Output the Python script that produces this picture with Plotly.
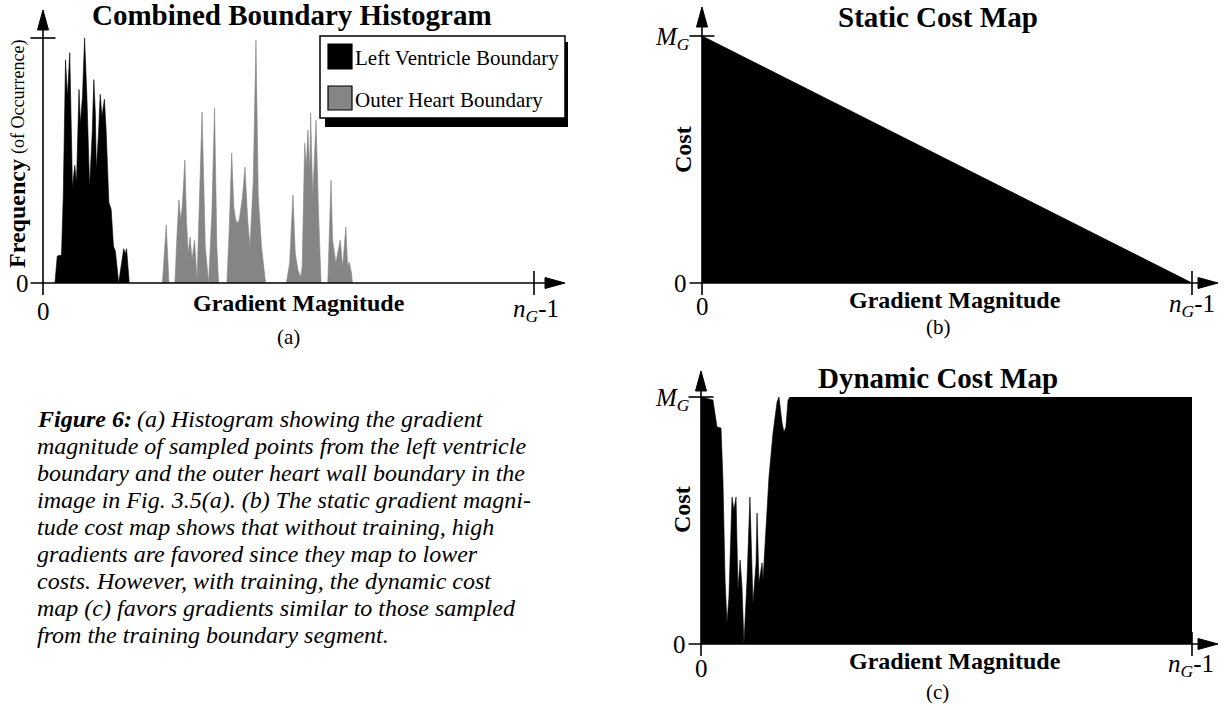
import plotly.graph_objects as go

W, H = 1225, 710
FONT = "Liberation Serif, Times New Roman, serif"

# ---------------- data ----------------
# gradient magnitude axis runs 0 .. nG-1 (255); frequency / cost normalised 0..1
series_names = ["Left Ventricle Boundary", "Outer Heart Boundary"]
series_colors = ["#000000", "#858585"]

grad_lv = [6.2, 7.4, 9.6, 10.5, 11.7, 12.2, 12.7, 13.9, 14.8, 15.3, 16.5, 17.4, 18.7, 19.4,
           20.5, 21.6, 22.8, 24.2, 25.6, 26.4, 27.2, 27.7, 28.9, 29.7, 30.6, 31.9, 32.8, 34.2,
           35.4, 36.6, 37.6, 39.3, 41.9, 42.8, 43.4, 44.8]
freq_lv = [0, 0.11, 0.114, 0.35, 0.91, 0.84, 0.76, 0.94, 0.62, 0.39, 0.48, 0.41, 0.79, 0.65,
           0.76, 1.0, 0.76, 0.39, 0.62, 0.83, 0.69, 0.46, 0.62, 0.77, 0.68, 0.75, 0.62, 0.33,
           0.30, 0.15, 0.13, 0, 0.14, 0.12, 0.14, 0]

grad_oh = [62.0, 64.0, 65.4, 68.5, 69.7, 70.6, 71.5, 72.3, 73.7, 74.5, 75.4, 76.4, 77.4, 78.7,
           80.0, 82.6, 84.3, 86.0, 87.7, 89.1, 90.3, 91.2, 95.5, 96.7, 98.0, 99.1, 100.1, 101.0,
           101.9, 103.6, 104.9, 106.3, 107.5, 109.2, 110.6, 111.8, 113.5, 115.6, 126.4, 128.1,
           129.8, 131.0, 132.4, 133.8, 134.6, 135.9, 136.7, 137.6, 138.6, 139.0, 140.1, 141.0,
           141.8, 143.1, 144.4, 147.9, 149.6, 150.4, 151.3, 152.1, 154.4, 155.6, 157.3, 158.2,
           159.0, 160.2, 160.7]
freq_oh = [0, 0.237, 0, 0, 0.216, 0.339, 0.257, 0.310, 0.502, 0.257, 0.122, 0.188, 0.094, 0.176,
           0.012, 0.698, 0.147, 0, 0.286, 0.714, 0.147, 0, 0, 0.216, 0.531, 0.310, 0.257, 0.245,
           0.257, 0.351, 0.473, 0.257, 0.147, 0.420, 0.992, 0.351, 0.147, 0, 0, 0.082,
           0.359, 0.122, 0.053, 0.024, 0.065, 0.571, 0.473, 0.624, 0.449, 0.694, 0.351, 0.502,
           0.665, 0.286, 0, 0, 0.420, 0.176, 0.122, 0.082, 0.176, 0.065, 0.229, 0.065,
           0.086, 0.041, 0]

static_x = [0, 255]
static_cost = [1.0, 0.0]

dyn_x = [0, 6.2, 8.3, 10.4, 11.4, 12.5, 13.5, 14.5, 16.1, 17.1, 18.2, 19.2, 20.3, 21.3, 22.3,
         23.9, 25.4, 27.0, 28.6, 29.1, 30.1, 31.7, 32.2, 34.3, 35.3, 37.4, 39.5, 40.5, 42.1,
         43.1, 44.1, 45.2, 46.2, 255]
dyn_cost = [1.0, 0.988, 0.879, 0.874, 0.664, 0.259, 0.085, 0.190, 0.595, 0.543, 0.595, 0.219,
            0.340, 0.231, 0.0, 0.259, 0.595, 0.166, 0.328, 0.530, 0.247, 0.328, 0.259, 0.530,
            0.676, 0.854, 0.980, 1.0, 0.895, 0.858, 0.879, 0.988, 1.0, 1.0]

titles = ["Combined Boundary Histogram", "Static Cost Map", "Dynamic Cost Map"]
x_label = "Gradient Magnitude"
panel_tags = ["(a)", "(b)", "(c)"]

caption_head = "Figure 6:"
caption_lines = [
    "(a) Histogram showing the gradient",
    "magnitude of sampled points from the left ventricle",
    "boundary and the outer heart wall boundary in the",
    "image in Fig. 3.5(a). (b) The static gradient magni-",
    "tude cost map shows that without training, high",
    "gradients are favored since they map to lower",
    "costs. However, with training, the dynamic cost",
    "map (c) favors gradients similar to those sampled",
    "from the training boundary segment.",
]

# ---------------- helpers (pixel -> paper) ----------------
def X(px):
    return px / W


def Y(py):
    return 1 - py / H


shapes = []
annotations = []


def seg(x0, y0, x1, y1, w=1.6):
    shapes.append(dict(type="line", xref="paper", yref="paper", x0=X(x0), y0=Y(y0),
                       x1=X(x1), y1=Y(y1), line=dict(color="black", width=w)))


def poly(points, fill="black", lw=1):
    path = "M " + " L ".join(f"{X(a):.5f},{Y(b):.5f}" for a, b in points) + " Z"
    shapes.append(dict(type="path", xref="paper", yref="paper", path=path,
                       fillcolor=fill, line=dict(color="black", width=lw)))


def rect(x0, y0, x1, y1, fill, lw=1.5):
    shapes.append(dict(type="rect", xref="paper", yref="paper", x0=X(x0), y0=Y(y1),
                       x1=X(x1), y1=Y(y0), fillcolor=fill, line=dict(color="black", width=lw)))


def text(t, x, y, size, xanchor="center", yanchor="middle", angle=0,
         weight="normal", style="normal"):
    annotations.append(dict(text=t, x=X(x), y=Y(y), xref="paper", yref="paper",
                            showarrow=False, xanchor=xanchor, yanchor=yanchor,
                            textangle=angle,
                            font=dict(family=FONT, size=size, color="black",
                                      weight=weight, style=style)))


def sym(letter, size):
    """italic letter with italic subscript G, every piece with an explicit size"""
    sub = round(size * 0.7, 1)
    return (f"<span style='font-style:italic;font-size:{size}px'>{letter}</span>"
            f"<sub><span style='font-style:italic;font-size:{sub}px'>G</span></sub>")


def axes_frame(ox, oy, ty, rx, tip_y, tip_x):
    # y axis with arrow
    seg(ox, oy + 12, ox, tip_y + 19)
    poly([(ox, tip_y), (ox - 5.5, tip_y + 20), (ox + 5.5, tip_y + 20)])
    seg(ox - 12.5, ty, ox + 12.5, ty)
    # x axis with arrow
    seg(ox - 12.5, oy, tip_x - 19, oy)
    poly([(tip_x, oy), (tip_x - 20, oy - 5.5), (tip_x - 20, oy + 5.5)])
    seg(rx, oy - 12, rx, oy + 12)


# ---------------- panel geometry (pixels) ----------------
A = dict(ox=43, oy=283, ty=38, rx=534, tip_y=10, tip_x=565)
B = dict(ox=702, oy=283, ty=36, rx=1192, tip_y=7, tip_x=1218)
C = dict(ox=701, oy=644, ty=397, rx=1192, tip_y=371, tip_x=1218)

fig = go.Figure()

fig.add_trace(go.Scatter(x=grad_lv, y=freq_lv, mode="lines", fill="tozeroy",
                         line=dict(color=series_colors[0], width=0.6),
                         fillcolor=series_colors[0], name=series_names[0],
                         xaxis="x", yaxis="y"))
fig.add_trace(go.Scatter(x=grad_oh, y=freq_oh, mode="lines", fill="tozeroy",
                         line=dict(color=series_colors[1], width=0.6),
                         fillcolor=series_colors[1], name=series_names[1],
                         xaxis="x", yaxis="y"))
fig.add_trace(go.Scatter(x=static_x, y=static_cost, mode="lines", fill="tozeroy",
                         line=dict(color="black", width=0.8), fillcolor="black",
                         xaxis="x2", yaxis="y2"))
fig.add_trace(go.Scatter(x=dyn_x, y=dyn_cost, mode="lines", fill="tozeroy",
                         line=dict(color="black", width=0.6), fillcolor="black",
                         xaxis="x3", yaxis="y3"))


def ax(P):
    xa = dict(domain=[X(P["ox"]), X(P["rx"])], range=[0, 255], visible=False, fixedrange=True)
    ya = dict(domain=[Y(P["oy"]), Y(P["ty"])], range=[0, 1], visible=False, fixedrange=True)
    return xa, ya


xa1, ya1 = ax(A)
xa2, ya2 = ax(B)
xa3, ya3 = ax(C)
ya1["anchor"] = "x"
xa2["anchor"] = "y2"; ya2["anchor"] = "x2"
xa3["anchor"] = "y3"; ya3["anchor"] = "x3"

for P in (A, B, C):
    axes_frame(**P)

# ---------------- legend box (panel a) ----------------
rect(325, 42, 568, 127, "black", lw=0)
rect(320, 36, 565, 118, "white", lw=1.5)
rect(328, 44, 352, 69, series_colors[0], lw=1.2)
rect(328, 86, 352, 110, series_colors[1], lw=1.2)
text(series_names[0], 353, 58, 21, xanchor="left")
text(series_names[1], 353, 100, 21, xanchor="left")

# ---------------- texts ----------------
TS = 29
text(titles[0], 292, 15, TS, weight="bold")
text(titles[1], 938, 17, TS, weight="bold")
text(titles[2], 938, 378, TS, weight="bold")

LS = 24
text(x_label, 299, 303, LS, weight="bold")
text(x_label, 955, 300, LS, weight="bold")
text(x_label, 955, 661, LS, weight="bold")

text("Frequency", 17, 214, LS, angle=-90, weight="bold")
text("(of Occurrence)", 18, 97, 18, angle=-90)
text("Cost", 683, 150, LS, angle=-90, weight="bold")
text("Cost", 682, 510, LS, angle=-90, weight="bold")

NS = 25
text("0", 22, 283, NS)
text("0", 43, 311, NS)
text(sym("n", NS) + "-1", 536, 310, NS)

text("0", 680, 283, NS)
text("0", 702, 306, NS)
text(sym("M", NS), 692, 38, NS, xanchor="right")
text(sym("n", NS) + "-1", 1192, 305, NS)

text("0", 679, 644, NS)
text("0", 701, 668, NS)
text(sym("M", NS), 692, 399, NS, xanchor="right")
text(sym("n", NS) + "-1", 1191, 665, NS)

PS = 21
text(panel_tags[0], 288, 337, PS)
text(panel_tags[1], 938, 327, PS)
text(panel_tags[2], 937, 692, PS)

# caption
text(caption_head, 35, 419, 24, xanchor="left", weight="bold", style="italic")
for i, line in enumerate(caption_lines):
    x0 = 135 if i == 0 else 35
    text(line, x0, 419 + i * 27, 24, xanchor="left", style="italic")

fig.update_layout(
    width=W, height=H, margin=dict(l=0, r=0, t=0, b=0),
    paper_bgcolor="white", plot_bgcolor="white", showlegend=False,
    xaxis=xa1, yaxis=ya1, xaxis2=xa2, yaxis2=ya2, xaxis3=xa3, yaxis3=ya3,
    shapes=shapes, annotations=annotations,
)

fig.write_html("out.html")
